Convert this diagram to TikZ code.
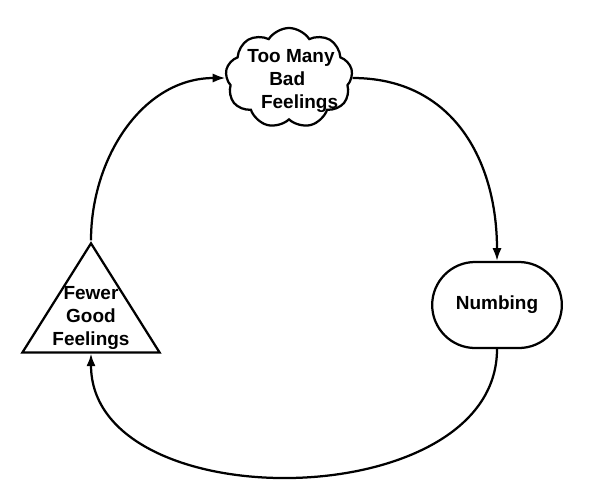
\documentclass[tikz,border=0pt]{standalone}
\usepackage{fontspec}
\setsansfont{Liberation Sans}
\usetikzlibrary{shapes.symbols,shapes.geometric,shapes.misc,arrows.meta}

\begin{document}
\begin{tikzpicture}[x=0.025cm,y=-0.025cm,font=\fontsize{13.5}{16.3}\selectfont\bfseries\sffamily,
   line width=1.6pt, >={Latex[length=9pt,width=6.5pt]},
   thought/.style={cloud, cloud puffs=9, cloud puff arc=115, draw, minimum width=3.175cm, minimum height=2.5cm, inner sep=0pt},
   tri/.style={isosceles triangle, isosceles triangle stretches, shape border rotate=90, draw, minimum width=3.425cm, minimum height=2.725cm, inner sep=0pt},
   pill/.style={rounded rectangle, draw, minimum width=3.475cm, minimum height=2.15cm}]
   \useasboundingbox (0,0) rectangle (589,495);
   \node[thought]                (bad)   at (289,78)  {};
   \node[align=center]           (badtxt) at (291,81) {Too Many\\\hspace*{-0.4em}Bad\\\hspace*{0.9em}Feelings};
   \node[tri]                    (fewer) at (91,314.5) {};
   \node[align=center]           (fewertxt) at (91,318) {Fewer\\Good\\Feelings};
   \node[pill]                   (numb)  at (497,305) {Numbing};
   \draw[->] (fewer.apex) to[out=90,in=180] (bad.west);
   \draw[->] (bad.east) to[out=0,in=90,looseness=1.1] (numb.north);
   \draw[->] (numb.south) to[out=-90,in=-90,looseness=1.05] (fewer.lower side);
\end{tikzpicture}
\end{document}
